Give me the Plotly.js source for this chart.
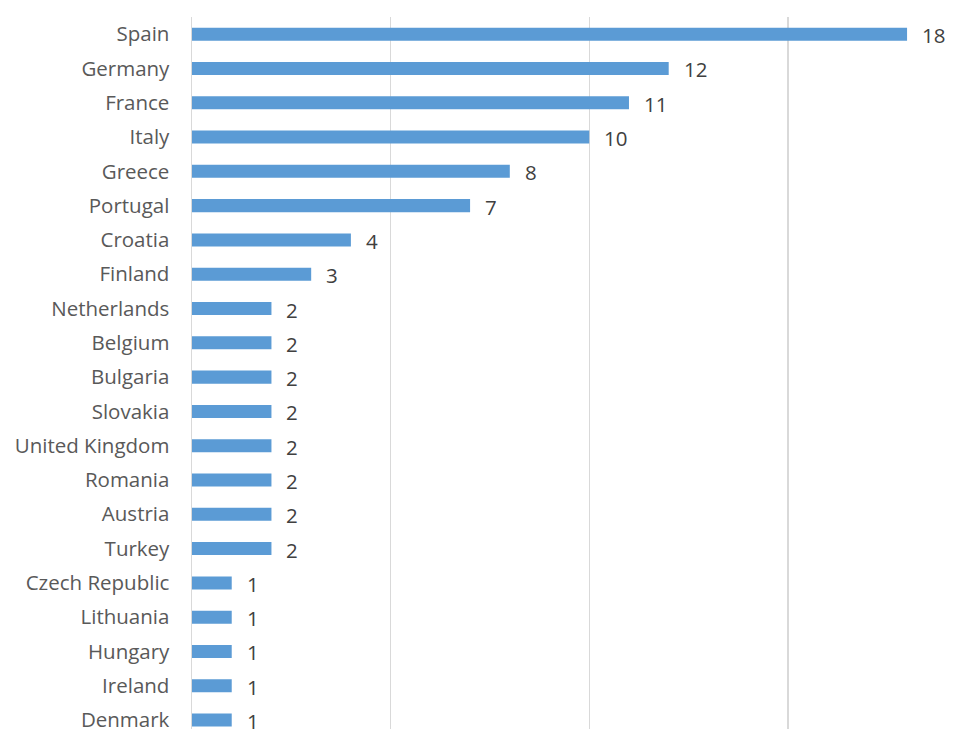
<!DOCTYPE html>
<html><head><meta charset="utf-8">
<script src="https://cdn.plot.ly/plotly-3.0.1.min.js"></script>
<style>html,body{margin:0;padding:0;overflow:hidden;background:#fff}</style>
</head><body>
<div id="chart" style="width:973px;height:729px"></div>
<script>
const countries = ["Spain","Germany","France","Italy","Greece","Portugal","Croatia","Finland","Netherlands","Belgium","Bulgaria","Slovakia","United Kingdom","Romania","Austria","Turkey","Czech Republic","Lithuania","Hungary","Ireland","Denmark"];
const counts = [18,12,11,10,8,7,4,3,2,2,2,2,2,2,2,2,1,1,1,1,1];

const annotations = countries.map((c, i) => ({
  x: counts[i], y: c, xref: 'x', yref: 'y',
  text: String(counts[i]), showarrow: false,
  xanchor: 'left', yanchor: 'middle', xshift: 13, yshift: -1,
  font: {family: 'Open Sans, sans-serif', size: 20.5, color: '#404040'}
}));

Plotly.newPlot('chart', [{
  type: 'bar', orientation: 'h',
  x: counts, y: countries,
  marker: {color: '#5b9bd5'},
  hoverinfo: 'none'
}], {
  width: 973, height: 729,
  margin: {l: 192, r: 0, t: 17, b: 0, pad: 0},
  bargap: 0.62,
  showlegend: false,
  paper_bgcolor: '#ffffff', plot_bgcolor: '#ffffff',
  xaxis: {
    range: [0, 19.66], tickvals: [0,5,10,15], showticklabels: false,
    showgrid: true, gridcolor: '#d9d9d9', gridwidth: 1.5, zeroline: false, showline: false, fixedrange: true
  },
  yaxis: {
    type: 'category', range: [20.26, -0.5],
    showgrid: false, zeroline: false, showline: true, linecolor: '#d9d9d9', linewidth: 1.5,
    ticks: '', ticklabelstandoff: 17,
    tickfont: {family: 'Open Sans, sans-serif', size: 20.5, color: '#595959'}
  },
  annotations: annotations
}, {staticPlot: true});
</script>
</body></html>
